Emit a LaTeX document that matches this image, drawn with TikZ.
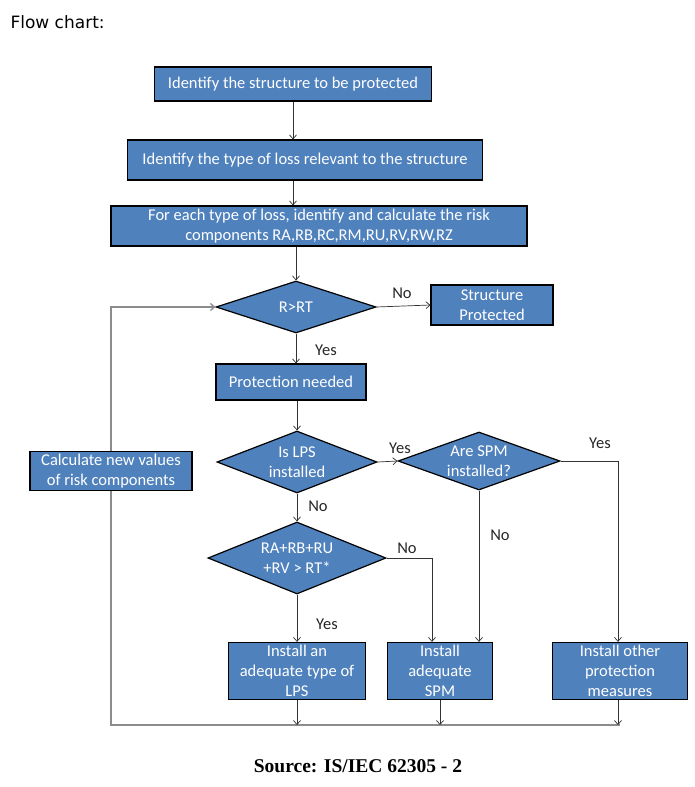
\documentclass[tikz,border=0pt]{standalone}
\usepackage{fontspec}
\setmainfont{Carlito}
\newfontfamily\titlefont{DejaVu Sans}
\newfontfamily\sourcefont{Liberation Serif}
\usepackage{tikz}
\usetikzlibrary{shapes.geometric,arrows.meta}
\definecolor{boxblue}{HTML}{4F81BD}
\definecolor{loopgray}{HTML}{8C8C8C}
\tikzset{
	box/.style 2 args={rectangle,draw=black,line width=1.2pt,fill=boxblue,text=white,align=center,
		minimum width=#1,minimum height=#2,inner sep=1pt,font=\fontsize{16.5}{20}\selectfont},
	dec/.style 2 args={diamond,draw=black,line width=1.2pt,fill=boxblue,text=white,align=center,aspect=2.6,
		minimum width=#1,minimum height=#2,inner sep=-3pt,font=\fontsize{16.5}{20}\selectfont},
	conn/.style={draw=black!80,line width=0.7pt,-{Straight Barb[length=4pt,width=7pt]}},
	loopline/.style={draw=loopgray,line width=1.3pt},
	lbl/.style={font=\fontsize{16.5}{18}\selectfont,text=black!85}
}
\begin{document}
\begin{tikzpicture}[x=1pt,y=-1pt]
	\useasboundingbox (0,0) rectangle (694,787);
	\node [anchor=west,font=\titlefont\fontsize{17}{20}\selectfont] (title) at (7,22) {Flow chart:};
	
	\node [box={277pt}{34pt}] (ident) at (293,84) {Identify the structure to be protected};
	\node [box={355pt}{40pt}] (losstype) at (305,160) {Identify the type of loss relevant to the structure};
	\node [box={416pt}{40pt}] (riskcomp) at (319,226) {For each type of loss, identify and calculate the risk\\components RA,RB,RC,RM,RU,RV,RW,RZ};
	\node [dec={160pt}{52pt}] (rcheck) at (296,307) {R>RT};
	\node [box={122pt}{40pt}] (protected) at (492,305) {Structure\\Protected};
	\node [box={150pt}{36pt}] (needed) at (291,382) {Protection needed};
	\node [dec={160pt}{62pt}] (lpscheck) at (297,462) {Is LPS\\installed};
	\node [dec={162pt}{58pt}] (spmcheck) at (479,461) {Are SPM\\installed?};
	\node [box={162pt}{39pt}] (newvalues) at (111,471) {Calculate new values\\of risk components};
	\node [dec={178pt}{72pt}] (sumcheck) at (297,558) {RA+RB+RU\\+RV > RT*};
	\node [box={137pt}{57pt}] (installlps) at (297,671) {Install an\\adequate type of\\LPS};
	\node [box={105pt}{57pt}] (installspm) at (440,671) {Install\\adequate\\SPM};
	\node [box={135pt}{57pt}] (installother) at (620,671) {Install other\\protection\\measures};
	\coordinate (base) at (111,725);
	
	\node [lbl] (rno) at (402,293) {No};
	\node [lbl] (ryes) at (326,350) {Yes};
	\node [lbl] (lpsyes) at (400,448) {Yes};
	\node [lbl] (lpsno) at (318,506) {No};
	\node [lbl] (spmyes) at (600,443) {Yes};
	\node [lbl] (spmno) at (500,535) {No};
	\node [lbl] (sumno) at (407,548) {No};
	\node [lbl] (sumyes) at (327,624) {Yes};
	
	\draw [conn] (ident.south) -- (ident.south |- losstype.north);
	\draw [conn] (ident.south |- losstype.south) -- (ident.south |- riskcomp.north);
	\draw [conn] (rcheck.north |- riskcomp.south) -- (rcheck.north);
	\draw [conn] (rcheck.east) -- (protected.west);
	\draw [conn] (rcheck.south) -- (rcheck.south |- needed.north);
	\draw [conn] (lpscheck.north |- needed.south) -- (lpscheck.north);
	\draw [conn] (lpscheck.east) -- (spmcheck.west);
	\draw [conn] (spmcheck.east) -| ([xshift=-2pt]installother.north);
	\draw [conn] (spmcheck.south) -- (spmcheck.south |- installspm.north);
	\draw [conn] (lpscheck.south) -- (sumcheck.north);
	\draw [conn] (sumcheck.east) -| ([xshift=-8pt]installspm.north);
	\draw [conn] (sumcheck.south) -- (installlps.north);
	
	\draw [loopline] (newvalues.south) -- (base) -- (base -| installother.south);
	\draw [loopline,-{Straight Barb[length=4pt,width=7pt]}] (newvalues.north) |- (rcheck.west);
	\draw [conn] (installlps.south) -- (installlps.south |- base);
	\draw [conn] (installspm.south) -- (installspm.south |- base);
	\draw [conn] ([xshift=-2pt]installother.south) -- ([xshift=-2pt]installother.south |- base);
	
	\node [font=\sourcefont\bfseries\fontsize{19.5}{22}\selectfont] (source) at (358,766) {Source: IS/IEC 62305 - 2};
\end{tikzpicture}
\end{document}
